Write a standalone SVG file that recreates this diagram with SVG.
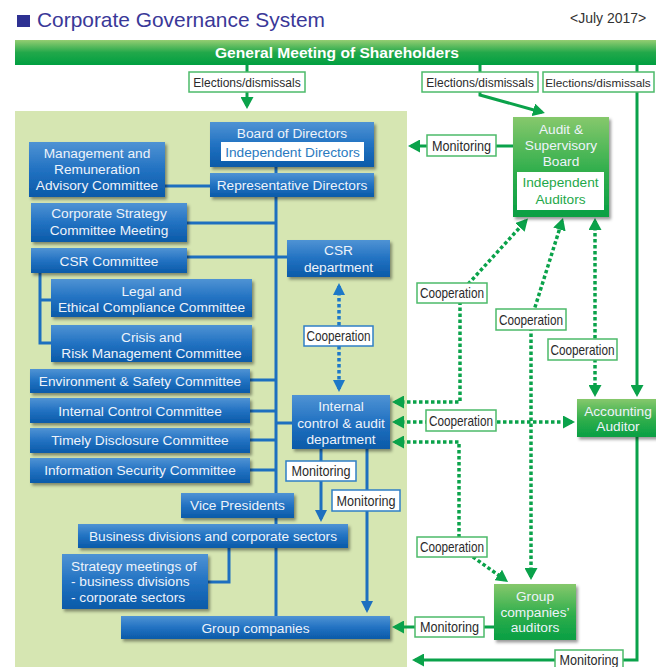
<svg xmlns="http://www.w3.org/2000/svg" width="656" height="667" viewBox="0 0 656 667">
<style>
.bx{fill:url(#gBlue);filter:url(#sh)}
.gx{fill:url(#gGreen);filter:url(#sh)}
.t{font-family:"Liberation Sans",Arial,sans-serif;font-size:13.7px;fill:#eef3fa;text-anchor:middle}
.lb{fill:#fff;stroke:#4cba6a;stroke-width:1.5}
.lbb{fill:#fff;stroke:#2f7fc6;stroke-width:1.5}
.lt{font-family:"Liberation Sans Narrow","Liberation Sans",Arial,sans-serif;font-size:14.5px;fill:#2b2b2b;text-anchor:middle}
.le{font-family:"Liberation Sans",Arial,sans-serif;font-size:12px;fill:#2b2b2b;text-anchor:middle}
.bl{fill:none;stroke:#1d6fbf;stroke-width:3}
.gl{fill:none;stroke:#0aa24a;stroke-width:3}
.gd{fill:none;stroke:#0aa24a;stroke-width:3.5;stroke-dasharray:3.5 2.5}
.bd{fill:none;stroke:#1d78c8;stroke-width:3.5;stroke-dasharray:3.5 2.5}
</style>
<defs>
<linearGradient id="gBlue" x1="0" y1="0" x2="0" y2="1">
<stop offset="0" stop-color="#4f93d4"/>
<stop offset="0.5" stop-color="#2272c2"/>
<stop offset="1" stop-color="#0a5aa8"/>
</linearGradient>
<linearGradient id="gGreen" x1="0" y1="0" x2="0" y2="1">
<stop offset="0" stop-color="#86c86c"/>
<stop offset="0.55" stop-color="#2fae4c"/>
<stop offset="1" stop-color="#079f43"/>
</linearGradient>
<linearGradient id="gBanner" x1="0" y1="0" x2="0" y2="1">
<stop offset="0" stop-color="#94cd72"/>
<stop offset="0.5" stop-color="#22a84a"/>
<stop offset="1" stop-color="#009f41"/>
</linearGradient>
<filter id="sh" x="-10%" y="-10%" width="125%" height="135%">
<feDropShadow dx="2" dy="2.5" stdDeviation="1.5" flood-color="#000" flood-opacity="0.4"/>
</filter>
<marker id="ag" markerUnits="userSpaceOnUse" markerWidth="13" markerHeight="13" refX="9" refY="6.5" orient="auto-start-reverse">
<path d="M0,0 L12,6.5 L0,13 z" fill="#0aa24a"/>
</marker>
<marker id="ab" markerUnits="userSpaceOnUse" markerWidth="13" markerHeight="13" refX="9" refY="6" orient="auto-start-reverse">
<path d="M0,0 L12,6 L0,12 z" fill="#1d6fbf"/>
</marker>
<marker id="abd" markerUnits="userSpaceOnUse" markerWidth="13" markerHeight="13" refX="9" refY="6" orient="auto-start-reverse">
<path d="M0,0 L12,6 L0,12 z" fill="#1d78c8"/>
</marker>
</defs>

<rect width="656" height="667" fill="#fff"/>
<!-- title -->
<g id="title">
<rect x="17" y="15" width="13" height="12" fill="#2e3192"/>
<text x="37" y="27" font-family="Liberation Sans,Arial,sans-serif" font-size="21" fill="#3a3898" textLength="288" lengthAdjust="spacingAndGlyphs">Corporate Governance System</text>
<text x="570" y="23" font-family="Liberation Sans,Arial,sans-serif" font-size="14" fill="#333">&lt;July 2017&gt;</text>
</g>
<!-- panel -->
<rect x="15" y="111" width="392" height="560" fill="#d6e6b2"/>

<g id="connectors">
<!-- blue -->
<path class="bl" d="M276,167 V616"/>
<path class="bl" d="M165,186 H210"/>
<path class="bl" d="M187,223 H276"/>
<path class="bl" d="M187,257 H287"/>
<path class="bl" d="M40,273 V343 H51 M40,300 H51"/>
<path class="bl" d="M250,380 H276 M250,411 H276 M250,440 H276 M250,470 H276"/>
<path class="bl" d="M276,423 H292"/>
<path class="bl" d="M208,582 H229 V548"/>
<path class="bl" d="M321,449 V519" marker-end="url(#ab)"/>
<path class="bl" d="M367,449 V610" marker-end="url(#ab)"/>
<path class="bd" d="M339,286 V389" marker-start="url(#abd)" marker-end="url(#abd)"/>
<!-- green solid -->
<path class="gl" d="M247,64 V106" marker-end="url(#ag)"/>
<path class="gl" d="M480,64 V95 L542,112.2" marker-end="url(#ag)"/>
<path class="gl" d="M637,64 V394" marker-end="url(#ag)"/>
<path class="gl" d="M513,146 H411" marker-end="url(#ag)"/>
<path class="gl" d="M494,627 H395" marker-end="url(#ag)"/>
<path class="gl" d="M637,437 V660 H415" marker-end="url(#ag)"/>
<!-- green dotted -->
<path class="gd" d="M395,402 H460 V293 L525.9,220.8" marker-start="url(#ag)" marker-end="url(#ag)"/>
<path class="gd" d="M531,577 V320 L562.1,220.9" marker-start="url(#ag)" marker-end="url(#ag)"/>
<path class="gd" d="M595,221 V394" marker-start="url(#ag)" marker-end="url(#ag)"/>
<path class="gd" d="M395,422 H572" marker-start="url(#ag)" marker-end="url(#ag)"/>
<path class="gd" d="M395,442 H459 V547 L505.6,580.2" marker-start="url(#ag)" marker-end="url(#ag)"/>
</g>

<!-- banner -->
<g id="shareholders">
<rect x="15" y="40" width="641" height="25" fill="url(#gBanner)"/>
<text x="337" y="57.5" font-family="Liberation Sans,Arial,sans-serif" font-size="14.5" font-weight="bold" fill="#fff" text-anchor="middle" textLength="244" lengthAdjust="spacingAndGlyphs">General Meeting of Shareholders</text>
</g>

<!-- blue nodes -->
<g id="board"><rect class="bx" x="210" y="122" width="164" height="45"/>
<text class="t" x="292" y="138">Board of Directors</text>
<rect x="221" y="142" width="143" height="19" fill="#fff"/>
<text class="t" x="292.5" y="156.5" style="fill:#2a7ac0">Independent Directors</text></g>
<g id="rep"><rect class="bx" x="210" y="173" width="164" height="24"/><text class="t" x="292" y="190">Representative Directors</text></g>
<g id="mgmt"><rect class="bx" x="29" y="142" width="136" height="55"/>
<text class="t" x="97" y="158">Management and</text><text class="t" x="97" y="174">Remuneration</text><text class="t" x="97" y="190">Advisory Committee</text></g>
<g id="corpstrat"><rect class="bx" x="31" y="203" width="156" height="39"/>
<text class="t" x="109" y="218">Corporate Strategy</text><text class="t" x="109" y="234.5">Committee Meeting</text></g>
<g id="csrcom"><rect class="bx" x="31" y="248" width="156" height="25"/><text class="t" x="109" y="265.5">CSR Committee</text></g>
<g id="csrdept"><rect class="bx" x="287" y="240" width="103" height="37"/>
<text class="t" x="338.5" y="254.5">CSR</text><text class="t" x="338.5" y="271.5">department</text></g>
<g id="legal"><rect class="bx" x="51" y="279" width="201" height="38"/>
<text class="t" x="151.5" y="295.5">Legal and</text><text class="t" x="151.5" y="311.5">Ethical Compliance Committee</text></g>
<g id="crisis"><rect class="bx" x="51" y="325" width="201" height="37"/>
<text class="t" x="151.5" y="341.5">Crisis and</text><text class="t" x="151.5" y="357.5">Risk Management Committee</text></g>
<g id="env"><rect class="bx" x="30" y="369" width="220" height="24"/><text class="t" x="140" y="385.5">Environment &amp; Safety Committee</text></g>
<g id="icc"><rect class="bx" x="30" y="398" width="220" height="25"/><text class="t" x="140" y="415.5">Internal Control Committee</text></g>
<g id="timely"><rect class="bx" x="30" y="428" width="220" height="25"/><text class="t" x="140" y="445">Timely Disclosure Committee</text></g>
<g id="infosec"><rect class="bx" x="30" y="458" width="220" height="25"/><text class="t" x="140" y="475">Information Security Committee</text></g>
<g id="audit-dept"><rect class="bx" x="292" y="395" width="98" height="54"/>
<text class="t" x="341" y="410.5">Internal</text><text class="t" x="341" y="427.5">control &amp; audit</text><text class="t" x="341" y="443.5">department</text></g>
<g id="vp"><rect class="bx" x="181" y="493" width="113" height="25"/><text class="t" x="237.5" y="510">Vice Presidents</text></g>
<g id="bizdiv"><rect class="bx" x="78" y="524" width="270" height="24"/><text class="t" x="213" y="540.5">Business divisions and corporate sectors</text></g>
<g id="stratmeet"><rect class="bx" x="62" y="554" width="146" height="55"/>
<text class="t" x="71" y="570.5" style="text-anchor:start">Strategy meetings of</text>
<text class="t" x="71" y="586" style="text-anchor:start">- business divisions</text>
<text class="t" x="71" y="601.5" style="text-anchor:start">- corporate sectors</text></g>
<g id="groupco"><rect class="bx" x="121" y="616" width="269" height="23"/><text class="t" x="255.5" y="632.5">Group companies</text></g>

<!-- green nodes -->
<g id="asb"><rect class="gx" x="513" y="117" width="96" height="100"/>
<text class="t" x="561" y="134">Audit &amp;</text><text class="t" x="561" y="150">Supervisory</text><text class="t" x="561" y="165.5">Board</text>
<rect x="517" y="172" width="87" height="38" fill="#fff"/>
<text class="t" x="560.5" y="187" style="fill:#1ea84a">Independent</text><text class="t" x="560.5" y="204" style="fill:#1ea84a">Auditors</text></g>
<g id="accaud"><rect class="gx" x="577" y="399" width="82" height="38"/>
<text class="t" x="618" y="415.5">Accounting</text><text class="t" x="618" y="431">Auditor</text></g>
<g id="gca"><rect class="gx" x="494" y="584" width="82" height="56"/>
<text class="t" x="535" y="601">Group</text><text class="t" x="535" y="617">companies’</text><text class="t" x="535" y="632">auditors</text></g>

<!-- labels -->
<g id="labels">
<rect class="lb" x="189" y="72" width="116" height="20"/><text class="le" x="247" y="86.5">Elections/dismissals</text>
<rect class="lb" x="422" y="72" width="116" height="20"/><text class="le" x="480" y="86.5">Elections/dismissals</text>
<rect class="lb" x="543" y="72" width="111" height="20"/><text class="le" x="598" y="86.5" style="font-size:11.8px">Elections/dismissals</text>
<rect class="lb" x="427" y="135" width="69" height="21"/><text class="lt" x="461.5" y="150.5" textLength="59" lengthAdjust="spacingAndGlyphs">Monitoring</text>
<rect class="lb" x="417" y="283" width="70" height="20"/><text class="lt" x="452" y="298" textLength="64" lengthAdjust="spacingAndGlyphs">Cooperation</text>
<rect class="lb" x="496" y="309" width="70" height="21"/><text class="lt" x="531" y="324.5" textLength="64" lengthAdjust="spacingAndGlyphs">Cooperation</text>
<rect class="lb" x="548" y="339" width="69" height="21"/><text class="lt" x="582.5" y="354.5" textLength="64" lengthAdjust="spacingAndGlyphs">Cooperation</text>
<rect class="lb" x="426" y="410" width="70" height="21"/><text class="lt" x="461" y="425.5" textLength="64" lengthAdjust="spacingAndGlyphs">Cooperation</text>
<rect class="lb" x="417" y="537" width="70" height="20"/><text class="lt" x="452" y="552" textLength="64" lengthAdjust="spacingAndGlyphs">Cooperation</text>
<rect class="lb" x="415" y="617" width="69" height="20"/><text class="lt" x="449.5" y="632" textLength="59" lengthAdjust="spacingAndGlyphs">Monitoring</text>
<rect class="lb" x="555" y="650" width="68" height="22"/><text class="lt" x="589" y="665" textLength="59" lengthAdjust="spacingAndGlyphs">Monitoring</text>
<rect class="lbb" x="304" y="326" width="69" height="20"/><text class="lt" x="338.5" y="341" textLength="64" lengthAdjust="spacingAndGlyphs">Cooperation</text>
<rect class="lbb" x="286" y="461" width="70" height="20"/><text class="lt" x="321" y="476" textLength="59" lengthAdjust="spacingAndGlyphs">Monitoring</text>
<rect class="lbb" x="332" y="490" width="68" height="21"/><text class="lt" x="366" y="505.5" textLength="59" lengthAdjust="spacingAndGlyphs">Monitoring</text>
</g>
</svg>
